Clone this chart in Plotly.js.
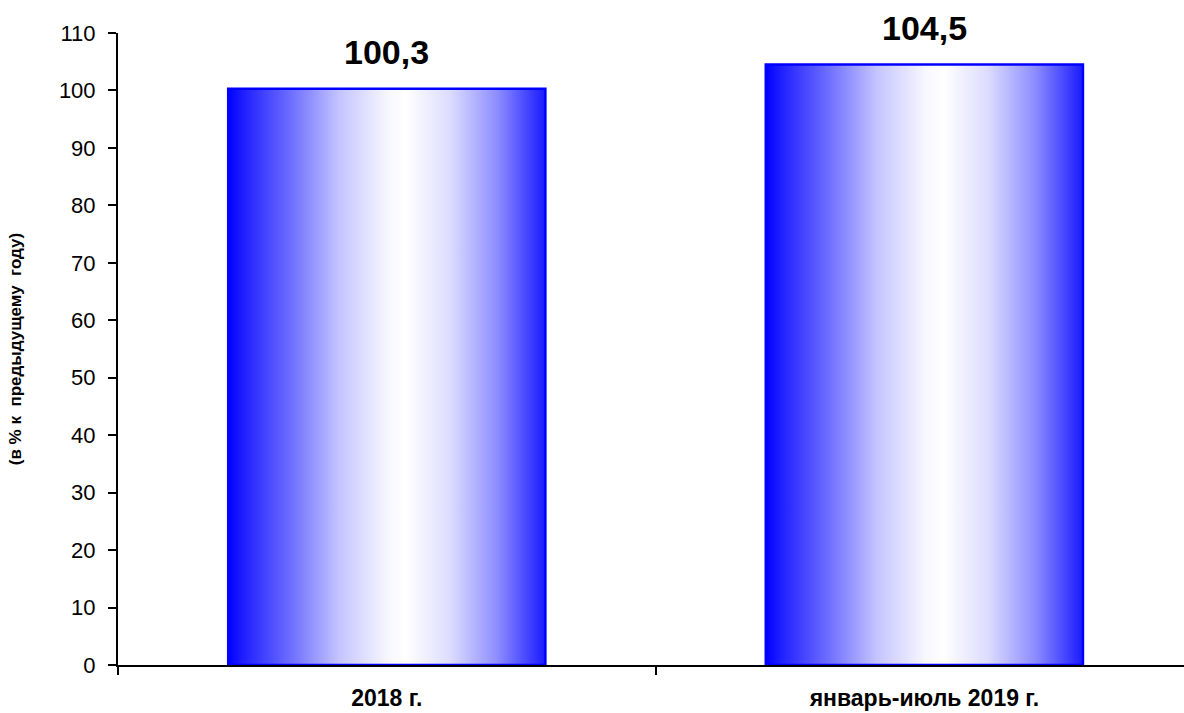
<!DOCTYPE html>
<html>
<head>
<meta charset="utf-8">
<script src="https://cdn.plot.ly/plotly-3.0.1.min.js"></script>
<style>html,body{margin:0;padding:0;background:#fff;}#chart{width:1184px;height:713px;}</style>
</head>
<body>
<div id="chart"></div>
<script>
const categories = ["2018 г.", "январь-июль 2019 г."];
const values = [100.3, 104.5];
const yTickValues = [0,10,20,30,40,50,60,70,80,90,100,110];
const yAxisTitle = "(в % к  предыдущему  году)";

const fmt = v => v.toFixed(1).replace('.', ',');
const FONT = 'Liberation Sans, Arial, sans-serif';

const trace = {
  type: 'bar',
  x: categories,
  y: values,
  width: 0.59,
  marker: {color: '#8080ff', line: {color: '#0000ff', width: 2.5}},
  hoverinfo: 'none'
};

const annotations = categories.map((c, i) => ({
  x: c, y: values[i], xref: 'x', yref: 'y',
  text: '<b>' + fmt(values[i]) + '</b>',
  showarrow: false, yanchor: 'middle', yshift: 37,
  font: {family: FONT, size: 34, color: '#000'}
}));

const layout = {
  width: 1184, height: 713,
  margin: {l: 118, r: 0, t: 33, b: 47.5},
  paper_bgcolor: '#fff', plot_bgcolor: '#fff',
  showlegend: false,
  font: {family: FONT, color: '#000'},
  xaxis: {
    type: 'category',
    range: [-0.5, 1.483],
    showline: true, linecolor: '#000', linewidth: 2,
    ticks: 'outside', tickson: 'boundaries', ticklen: 8, tickwidth: 2, tickcolor: '#000',
    tickfont: {size: 23, family: FONT, weight: 'bold'},
    ticklabelstandoff: 11,
    showgrid: false, zeroline: false, fixedrange: true
  },
  yaxis: {
    range: [0, 110],
    tickvals: yTickValues,
    showline: true, linecolor: '#000', linewidth: 2,
    ticks: 'outside', ticklen: 8, tickwidth: 2, tickcolor: '#000',
    tickfont: {size: 22, family: FONT},
    ticklabelstandoff: 8,
    showgrid: false, zeroline: false,
    title: {text: '<b>' + yAxisTitle + '</b>', font: {size: 17, family: FONT}, standoff: 33},
    fixedrange: true
  },
  annotations: annotations,
  bargap: 0
};

Plotly.newPlot('chart', [trace], layout, {displayModeBar: false, staticPlot: true}).then(gd => {
  const svg = gd.querySelector('svg.main-svg');
  const ns = 'http://www.w3.org/2000/svg';
  let defs = svg.querySelector('defs');
  if (!defs) { defs = document.createElementNS(ns, 'defs'); svg.insertBefore(defs, svg.firstChild); }
  const grad = document.createElementNS(ns, 'linearGradient');
  grad.setAttribute('id', 'barGrad');
  grad.setAttribute('x1', '0'); grad.setAttribute('y1', '0');
  grad.setAttribute('x2', '1'); grad.setAttribute('y2', '0');
  const stops = [[0,'#0000ff'],[0.05,'#2020ff'],[0.2,'#6f6fff'],[0.35,'#c4c4ff'],[0.5,'#f6f6ff'],[0.56,'#ffffff'],[0.7,'#dcdcff'],[0.85,'#8c8cff'],[1,'#1a1aff']];
  stops.forEach(([o,c]) => {
    const s = document.createElementNS(ns, 'stop');
    s.setAttribute('offset', o); s.setAttribute('stop-color', c);
    grad.appendChild(s);
  });
  defs.appendChild(grad);
  gd.querySelectorAll('.trace.bars .point path').forEach(p => { p.style.fill = 'url(#barGrad)'; });
});
</script>
</body>
</html>
